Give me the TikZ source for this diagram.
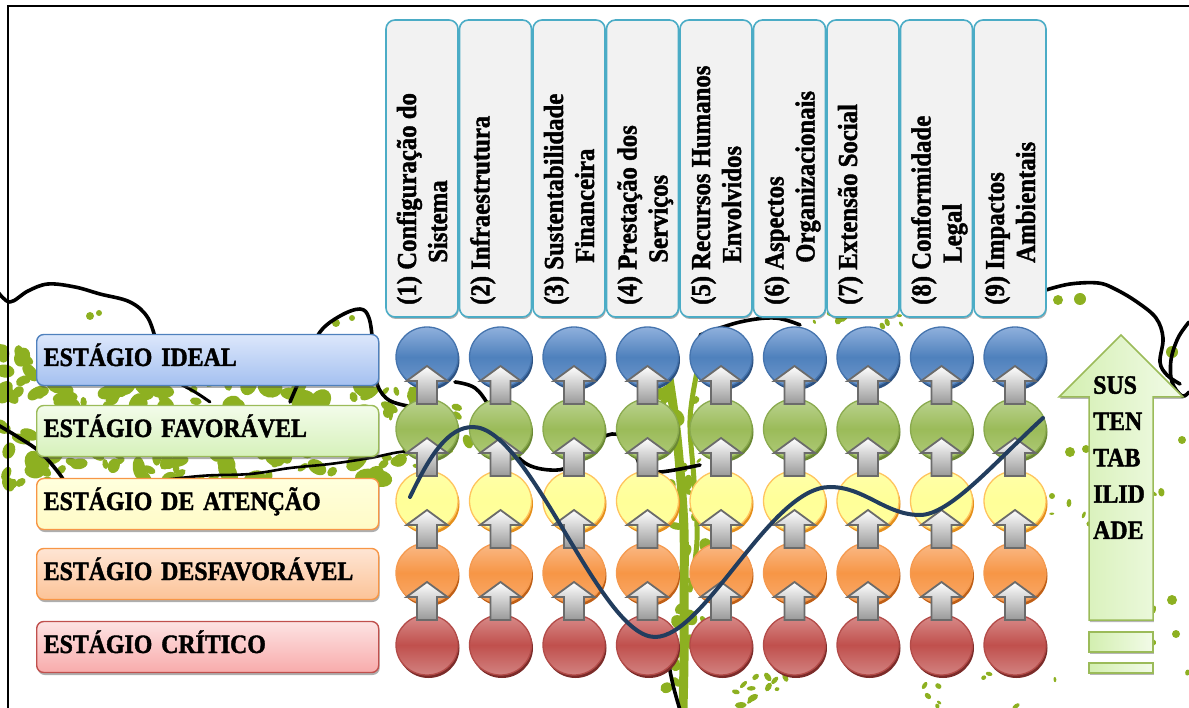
\documentclass[tikz,border=0pt]{standalone}
\usepackage{fontspec}
\setmainfont{Liberation Serif}[BoldFeatures={FakeStretch=0.9,FakeBold=1.5}]
\usetikzlibrary{shapes.geometric,shadows,calc}

% header columns
\definecolor{hdrline}{HTML}{4BACC6}
\definecolor{hdrfill}{HTML}{F2F2F2}
% tree in the background
\definecolor{leaf}{HTML}{8DB021}
\definecolor{trendline}{HTML}{223D5E}
% stage labels
\definecolor{idT}{HTML}{DCE7FB}\definecolor{idB}{HTML}{A4C0F0}\definecolor{idL}{HTML}{4F81BD}
\definecolor{faT}{HTML}{F3FCEA}\definecolor{faB}{HTML}{D6F1BA}\definecolor{faL}{HTML}{9BBB59}
\definecolor{atT}{HTML}{FFFFDD}\definecolor{atB}{HTML}{FFFBC6}\definecolor{atL}{HTML}{F79646}
\definecolor{deT}{HTML}{FEE5D4}\definecolor{deB}{HTML}{FCC397}\definecolor{deL}{HTML}{F79646}
\definecolor{crT}{HTML}{FDE3E3}\definecolor{crB}{HTML}{F8ABAB}\definecolor{crL}{HTML}{C0504D}
% discs: T top, M middle, B bottom, L outline, S shadow
\definecolor{cbT}{HTML}{8FB0DC}\definecolor{cbM}{HTML}{4F81BD}\definecolor{cbB}{HTML}{6F98CC}\definecolor{cbL}{HTML}{4574AE}\definecolor{cbS}{HTML}{2D5282}
\definecolor{cgT}{HTML}{BBD390}\definecolor{cgM}{HTML}{9BBB59}\definecolor{cgB}{HTML}{B0CB7A}\definecolor{cgL}{HTML}{8AAA4E}\definecolor{cgS}{HTML}{6A8834}
\definecolor{cyT}{HTML}{FFFFA8}\definecolor{cyM}{HTML}{FFFF99}\definecolor{cyB}{HTML}{FFFF9E}\definecolor{cyL}{HTML}{FFC45E}\definecolor{cyS}{HTML}{E48F1B}
\definecolor{coT}{HTML}{FABA88}\definecolor{coM}{HTML}{F79646}\definecolor{coB}{HTML}{F9AB6C}\definecolor{coL}{HTML}{F59A4F}\definecolor{coS}{HTML}{BF5F16}
\definecolor{crcT}{HTML}{D88C8A}\definecolor{crcM}{HTML}{C0504D}\definecolor{crcB}{HTML}{D28280}\definecolor{crcL}{HTML}{B34B48}\definecolor{crcS}{HTML}{7B2B29}
% sustainability arrow
\definecolor{susL}{HTML}{D3EFB0}\definecolor{susR}{HTML}{F2FBE8}\definecolor{susD}{HTML}{9BBB59}

% scattered leaves: count, x0, x1, y0, y1, smallest and largest size
\newcommand\scatterleaves[7]{%
  \foreach \n in {1,...,#1}{%
    \pgfmathsetmacro\lx{#2+rnd*(#3-#2)}%
    \pgfmathsetmacro\ly{#4+rnd*(#5-#4)}%
    \pgfmathsetmacro\la{#6+rnd*(#7-#6)}%
    \pgfmathsetmacro\lb{0.45*\la+rnd*0.4*\la}%
    \pgfmathsetmacro\lr{rnd*180}%
    \fill[leaf, rotate around={\lr:(\lx,\ly)}] (\lx,\ly) ellipse [x radius=\la, y radius=\lb];
  }}

\begin{document}
\begin{tikzpicture}[x=1pt,y=-1pt,
  branch/.style={black, line width=3.6pt, line cap=round, line join=round},
  vine/.style={leaf, line cap=round, line join=round},
  stagebox/.style={rounded corners=7pt, line width=1.4pt, minimum height=51pt,
    text width=328pt, inner xsep=7pt, inner ysep=0pt, align=left, anchor=west,
    text height=17pt, text depth=5pt, font=\bfseries\fontsize{26.5}{30}\selectfont,
    drop shadow={shadow xshift=1pt, shadow yshift=-2.5pt, opacity=0.45, fill=black!70}},
  hdrbox/.style={draw=hdrline, fill=hdrfill, line width=1.6pt, rounded corners=9pt,
    minimum width=72pt, minimum height=297pt, inner sep=0pt,
    drop shadow={shadow xshift=0.8pt, shadow yshift=-2pt, opacity=0.45, fill=black!70}},
  hdrtext/.style={rotate=90, anchor=base west, inner sep=0pt,
    font=\bfseries\fontsize{27.5}{32}\selectfont},
  disc/.style={ellipse, minimum width=62pt, minimum height=60pt, inner sep=0pt,
    line width=1.3pt, top color=#1T, bottom color=#1B, middle color=#1M, draw=#1L,
    drop shadow={shadow xshift=1.5pt, shadow yshift=-3pt, opacity=1, fill=#1S}},
  uparrow/.style={top color=white, bottom color=black!40, draw=black!58,
    line width=1.8pt, line join=miter},
  trend/.style={trendline, line width=4pt, line cap=round},
  susarrow/.style={left color=susL, right color=susR, draw=susD, line width=1.5pt,
    drop shadow={shadow xshift=0.8pt, shadow yshift=-2pt, opacity=0.4, fill=black!70}}
]
\useasboundingbox (0,0) rectangle (1189,708);

% ---------- tree in the background ----------
\pgfmathsetseed{2718}
\scatterleaves{55}{0}{420}{383}{409}{4}{13}
\scatterleaves{55}{30}{420}{454}{482}{4}{13}
\scatterleaves{22}{0}{36}{330}{485}{4}{11}
\scatterleaves{16}{378}{480}{385}{470}{3}{8}
\scatterleaves{40}{660}{706}{370}{700}{3}{9}
\scatterleaves{14}{680}{790}{672}{708}{2}{6}
\scatterleaves{14}{1050}{1189}{400}{708}{2}{6}
\scatterleaves{8}{900}{1040}{662}{708}{2}{5}
\scatterleaves{8}{790}{910}{312}{330}{2}{6}
\draw[vine, line width=9pt] plot[smooth, tension=0.6] coordinates {(668,372) (675,420)
  (680,470) (684,530) (684,600) (684,660) (683,708)};
\draw[vine, line width=5pt] plot[smooth, tension=0.6] coordinates {(697,372) (690,420)
  (694,480) (697,540) (690,590)};
\foreach \p/\r in {{(90,316)}/4, {(99,313)}/3, {(336,323)}/4, {(352,318)}/3,
  {(1058,300)}/5, {(1080,299)}/6, {(1172,352)}/6, {(1182,440)}/4, {(1172,600)}/5,
  {(1176,634)}/4, {(1070,452)}/5, {(1086,449)}/4, {(1052,496)}/3}
  \fill[leaf] \p circle [radius=\r];

\draw[branch] plot[smooth, tension=0.6] coordinates {(-2,292) (10,302) (28,291)
  (48,284) (75,287) (100,294) (130,302) (148,318) (157,345)};
\draw[branch] plot[smooth, tension=0.6] coordinates {(290,402) (308,360) (320,332)
  (340,316) (360,309) (369,318) (373,345) (376,380) (386,398) (403,405) (425,408)};
\draw[branch] plot[smooth, tension=0.6] coordinates {(-2,425) (18,437) (40,452)
  (58,472) (70,490)};
\draw[branch, line width=2.6pt] plot[smooth, tension=0.6] coordinates {(130,484)
  (200,476) (250,474) (290,468) (330,464) (370,458) (400,452) (430,450)};
\draw[branch, line width=3pt] plot[smooth, tension=0.6] coordinates {(180,384)
  (195,392) (210,402)};
\draw[branch] plot[smooth, tension=0.6] coordinates {(455,382) (475,388) (490,408)
  (505,440) (525,463) (550,470) (570,466) (592,445) (612,434) (630,442) (642,468)
  (660,472) (700,465)};
\draw[branch] plot[smooth, tension=0.6] coordinates {(700,335) (740,322) (775,318)
  (800,325)};
\draw[branch] plot[smooth, tension=0.6] coordinates {(1046,290) (1070,284)
  (1098,283) (1115,289) (1137,302) (1156,318) (1163,338) (1160,362) (1167,375)
  (1180,384)};
\draw[branch] plot[smooth, tension=0.6] coordinates {(1189,322) (1178,338)
  (1171,360) (1172,382) (1182,396) (1189,392)};
\draw[branch] plot[smooth, tension=0.6] coordinates {(668,660) (673,685) (680,710)};

% ---------- frame ----------
\draw[line width=2pt] (8,710) -- (8,6) -- (1190,6);

% ---------- stage labels ----------
\node[stagebox, top color=idT, bottom color=idB, draw=idL] (sIdeal) at (36,360) {ESTÁGIO IDEAL};
\node[stagebox, top color=faT, bottom color=faB, draw=faL] (sFav) at (36,431) {ESTÁGIO FAVORÁVEL};
\node[stagebox, top color=atT, bottom color=atB, draw=atL] (sAten) at (36,504) {ESTÁGIO DE ATENÇÃO};
\node[stagebox, top color=deT, bottom color=deB, draw=deL] (sDesf) at (36,574) {ESTÁGIO DESFAVORÁVEL};
\node[stagebox, top color=crT, bottom color=crB, draw=crL] (sCrit) at (36,647) {ESTÁGIO CRÍTICO};

% ---------- dimension headers ----------
\foreach \i in {0,...,8}
  \node[hdrbox] (h\i) at ({422+73.5*\i},168.5) {};
\node[hdrtext] (t0a) at (416,305) {(1) Configuração do};
\node[hdrtext] (t0b) at (447,263) {Sistema};
\node[hdrtext] (t1a) at (489.5,305) {(2) Infraestrutura};
\node[hdrtext] (t2a) at (563,305) {(3) Sustentabilidade};
\node[hdrtext] (t2b) at (594,263) {Financeira};
\node[hdrtext] (t3a) at (636.5,305) {(4) Prestação dos};
\node[hdrtext] (t3b) at (667.5,263) {Serviços};
\node[hdrtext] (t4a) at (710,305) {(5) Recursos Humanos};
\node[hdrtext] (t4b) at (741,263) {Envolvidos};
\node[hdrtext] (t5a) at (783.5,305) {(6) Aspectos};
\node[hdrtext] (t5b) at (814.5,263) {Organizacionais};
\node[hdrtext] (t6a) at (857,305) {(7) Extensão Social};
\node[hdrtext] (t7a) at (930.5,305) {(8) Conformidade};
\node[hdrtext] (t7b) at (961.5,263) {Legal};
\node[hdrtext] (t8a) at (1004,305) {(9) Impactos};
\node[hdrtext] (t8b) at (1035,263) {Ambientais};

% ---------- stage discs ----------
\foreach \j in {0,...,8}{
  \foreach \k/\c in {0/cb,1/cg,2/cy,3/co,4/crc}{
    \node[disc=\c] (d\j-\k) at ({427+73.5*\j},{357+72*\k}) {};
  }
}

% ---------- upward arrows between discs ----------
\foreach \j in {0,...,8}{
  \foreach \k in {0,...,3}{
    \draw[uparrow] ($(d\j-\k.center)+(-10,47)$) -- ($(d\j-\k.center)+(-10,24)$)
      -- ($(d\j-\k.center)+(-20.5,24)$) -- ($(d\j-\k.center)+(0,9)$)
      -- ($(d\j-\k.center)+(20.5,24)$) -- ($(d\j-\k.center)+(10,24)$)
      -- ($(d\j-\k.center)+(10,47)$) -- cycle;
  }
}

% ---------- profile curve ----------
\draw[trend] (410,497) .. controls (430,455) and (448,427) .. (473,427)
  .. controls (530,427) and (600,637) .. (655,637)
  .. controls (705,637) and (770,487) .. (830,487)
  .. controls (865,487) and (885,515) .. (920,515)
  .. controls (950,515) and (995,462) .. (1043,418);

% ---------- sustainability arrow ----------
\draw[susarrow] (1121,335) -- (1183,397) -- (1153,397) -- (1153,620) -- (1089,620)
  -- (1089,397) -- (1059,397) -- cycle;
\draw[susarrow] (1089,632) rectangle (1153,652);
\draw[susarrow] (1089,663) rectangle (1153,673);
\node[anchor=north west, inner sep=0pt, align=left,
  font=\bfseries\fontsize{26.5}{36.3}\selectfont] (sus) at (1093,376)
  {SUS\\TEN\\TAB\\ILID\\ADE};
\end{tikzpicture}
\end{document}
